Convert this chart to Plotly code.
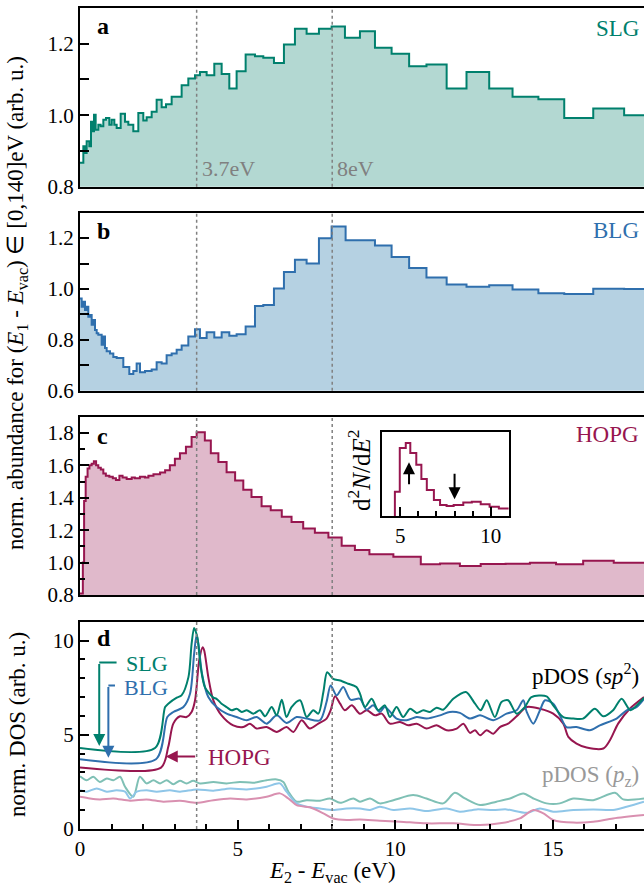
import plotly.graph_objects as go

# ---------------- data ----------------
a_edges = [0, 0.106, 0.159, 0.211, 0.296, 0.349, 0.391, 0.444, 0.497, 0.581, 0.655, 0.74, 0.824, 0.93, 1.004,
           1.089, 1.163, 1.29, 1.427, 1.533, 1.691, 1.85, 2.008, 2.114, 2.273, 2.431, 2.59, 2.727, 2.907, 3.224,
           3.436, 3.647, 3.805, 4.017, 4.26, 4.493, 4.736, 4.968, 5.254, 5.55, 5.814, 6.152, 6.469, 6.818, 7.188,
           7.579, 7.981, 8.404, 8.88, 9.356, 9.884, 10.44, 10.99, 11.63, 12.26, 12.98, 13.72, 14.54, 15.36, 16.28,
           17.26, 18.3]
a_vals = [0.867, 0.913, 0.894, 0.927, 0.913, 0.982, 0.955, 1.001, 0.959, 0.973, 0.969, 0.987, 0.992, 0.973, 0.987,
          0.973, 0.964, 1.004, 0.982, 0.973, 0.955, 1.006, 0.985, 0.994, 1.010, 1.043, 1.022, 1.031, 1.052, 1.084,
          1.103, 1.112, 1.121, 1.112, 1.144, 1.115, 1.075, 1.123, 1.170, 1.165, 1.161, 1.146, 1.198, 1.242, 1.228,
          1.242, 1.248, 1.217, 1.235, 1.189, 1.172, 1.137, 1.142, 1.075, 1.121, 1.075, 1.052, 1.045, 0.992, 1.019,
          1.0]

b_edges = [0, 0.053, 0.106, 0.159, 0.211, 0.264, 0.317, 0.370, 0.423, 0.476, 0.529, 0.581, 0.687, 0.740, 0.793,
           0.846, 0.951, 1.057, 1.163, 1.374, 1.564, 1.691, 1.797, 1.903, 2.061, 2.273, 2.431, 2.590, 2.748, 2.907,
           3.066, 3.224, 3.436, 3.647, 3.805, 4.017, 4.260, 4.493, 4.736, 4.968, 5.254, 5.550, 5.814, 6.152, 6.469,
           6.818, 7.188, 7.579, 7.981, 8.425, 9.356, 9.884, 10.44, 10.99, 11.63, 12.26, 12.98, 13.72, 14.54, 15.36,
           16.28, 17.26, 18.3]
b_vals = [0.963, 0.930, 0.950, 0.917, 0.930, 0.891, 0.898, 0.859, 0.878, 0.839, 0.826, 0.820, 0.781, 0.813, 0.768,
          0.755, 0.746, 0.733, 0.729, 0.693, 0.666, 0.677, 0.707, 0.673, 0.677, 0.683, 0.712, 0.707, 0.739, 0.746,
          0.761, 0.778, 0.813, 0.842, 0.807, 0.830, 0.809, 0.830, 0.816, 0.822, 0.852, 0.933, 0.937, 1.002, 1.067,
          1.115, 1.100, 1.200, 1.246, 1.192, 1.171, 1.126, 1.083, 1.045, 1.018, 1.009, 1.015, 0.998, 0.983, 0.980,
          1.001, 1.0]

c_edges = [0, 0.09, 0.13, 0.18, 0.24, 0.30, 0.37, 0.44, 0.51, 0.58, 0.66, 0.74, 0.82, 0.93, 1.04, 1.14, 1.25, 1.35,
           1.48, 1.64, 1.74, 1.90, 2.06, 2.17, 2.33, 2.54, 2.70, 2.85, 3.01, 3.17, 3.36, 3.54, 3.70, 3.96, 4.15, 4.39,
           4.65, 4.92, 5.18, 5.44, 5.76, 6.05, 6.40, 6.71, 7.08, 7.45, 7.88, 8.30, 8.72, 9.18, 9.94, 10.81, 11.42,
           12.05, 12.71, 13.50, 14.27, 15.10, 15.96, 16.93, 18.3]
c_vals = [0.81, 1.0, 1.38, 1.53, 1.58, 1.60, 1.61, 1.625, 1.60, 1.585, 1.575, 1.55, 1.535, 1.53, 1.52, 1.51, 1.535,
          1.525, 1.515, 1.525, 1.52, 1.53, 1.525, 1.535, 1.545, 1.555, 1.57, 1.60, 1.64, 1.675, 1.715, 1.775, 1.804,
          1.753, 1.675, 1.62, 1.558, 1.507, 1.45, 1.405, 1.348, 1.323, 1.282, 1.251, 1.21, 1.184, 1.155, 1.104,
          1.078, 1.051, 1.036, 0.989, 0.995, 0.979, 0.991, 0.993, 0.999, 0.989, 1.012, 0.999]

inset_edges = [4.71, 4.98, 5.31, 5.56, 5.89, 6.17, 6.47, 6.86, 7.20, 7.56, 7.95, 8.48, 8.95, 9.44, 9.93, 10.44, 10.98]
inset_vals = [0.29, 0.81, 0.87, 0.75, 0.61, 0.44, 0.31, 0.19, 0.13, 0.12, 0.13, 0.16, 0.17, 0.14, 0.11, 0.09]

slg_sp2_x = [0, 2.38, 2.70, 2.80, 3.07, 3.22, 3.44, 3.54, 3.62, 3.72, 3.83, 3.96, 4.23, 4.33, 4.49, 4.65, 4.81, 4.97,
             5.13, 5.29, 5.50, 5.71, 5.87, 6.08, 6.24, 6.40, 6.55, 6.71, 6.98, 7.19, 7.40, 7.56, 7.72, 7.84, 8.03,
             8.25, 8.51, 8.77, 8.88, 9.04, 9.25, 9.46, 9.67, 9.83, 10.04, 10.25, 10.47, 10.68, 10.89, 11.10, 11.31,
             11.52, 11.84, 12.24, 12.53, 12.71, 12.90, 13.16, 13.37, 13.58, 13.85, 14.11, 14.32, 14.80, 15.01, 15.33,
             15.65, 15.96, 16.33, 16.60, 16.91, 17.18, 17.46, 17.71, 17.89]
slg_sp2_y = [4.30, 4.30, 6.47, 6.65, 6.97, 7.09, 8.06, 9.82, 10.67, 10.18, 8.59, 7.53, 6.97, 6.91, 6.65, 6.47, 6.30,
             6.38, 6.21, 6.30, 6.12, 6.30, 5.98, 6.47, 6.03, 6.86, 5.94, 6.47, 6.83, 5.94, 6.30, 6.12, 7.27, 8.32,
             7.97, 7.88, 7.71, 7.53, 7.18, 6.47, 6.91, 6.30, 6.56, 5.94, 6.47, 5.94, 6.38, 6.16, 6.30, 6.21, 6.44,
             6.33, 6.91, 7.27, 6.65, 6.30, 6.83, 5.94, 6.74, 6.83, 6.12, 6.47, 7.00, 7.04, 6.56, 5.94, 5.86, 5.86,
             6.38, 5.98, 6.30, 6.91, 6.30, 6.65, 6.97]

blg_sp2_x = [0, 2.41, 2.77, 2.96, 3.28, 3.49, 3.62, 3.70, 3.77, 3.87, 4.07, 4.33, 4.65, 4.97, 5.29, 5.60, 5.92, 6.24,
             6.55, 6.87, 7.19, 7.61, 7.82, 7.95, 8.14, 8.35, 8.58, 8.88, 9.09, 9.30, 9.51, 9.67, 10.04, 10.36, 10.68,
             10.99, 11.42, 11.73, 12.05, 12.37, 12.69, 13.11, 13.53, 13.85, 14.06, 14.17, 14.38, 14.59, 14.75, 15.01,
             15.22, 15.43, 15.75, 16.17, 16.49, 17.02, 17.34, 17.65, 17.89]
blg_sp2_y = [3.70, 3.70, 5.94, 6.21, 6.47, 7.18, 9.29, 10.32, 9.65, 8.24, 7.00, 6.47, 6.12, 5.94, 5.77, 5.94, 5.59,
             6.03, 5.63, 5.94, 5.86, 5.77, 6.74, 7.62, 7.09, 7.53, 6.86, 6.91, 6.33, 6.56, 6.21, 6.47, 5.86, 5.77,
             5.94, 5.86, 6.03, 6.21, 6.16, 5.86, 6.03, 5.77, 6.12, 6.30, 6.83, 6.21, 5.59, 6.30, 6.83, 6.65, 6.03,
             5.41, 5.41, 5.24, 5.50, 5.86, 6.30, 6.47, 6.91]

hopg_sp2_x = [0, 2.57, 2.80, 2.96, 3.17, 3.38, 3.54, 3.65, 3.78, 3.89, 3.94, 4.07, 4.23, 4.49, 4.86, 5.18, 5.39, 5.60,
              5.92, 6.24, 6.55, 6.77, 7.03, 7.29, 7.56, 7.82, 7.95, 8.09, 8.25, 8.40, 8.62, 8.88, 9.09, 9.36, 9.57,
              9.83, 10.15, 10.41, 10.68, 10.99, 11.31, 11.63, 11.95, 12.16, 12.37, 12.53, 12.69, 12.90, 13.11, 13.32,
              13.58, 13.85, 14.17, 14.59, 15.01, 15.33, 15.49, 15.75, 16.07, 16.60, 16.81, 17.07, 17.44, 17.89]
hopg_sp2_y = [3.26, 3.26, 4.36, 5.59, 5.98, 5.94, 6.21, 6.83, 8.94, 9.65, 9.47, 8.06, 6.83, 6.03, 5.50, 5.41, 5.59,
              5.33, 5.41, 5.15, 5.41, 5.15, 5.77, 5.33, 5.59, 5.86, 6.30, 7.04, 6.65, 6.30, 6.56, 6.12, 6.30, 6.03,
              6.12, 5.59, 5.68, 5.50, 5.59, 5.33, 5.50, 5.24, 5.33, 5.59, 5.10, 5.24, 4.97, 5.24, 5.06, 5.41, 5.59,
              5.98, 6.47, 6.38, 6.12, 5.59, 4.89, 4.53, 4.32, 4.27, 4.71, 5.59, 6.38, 7.00]

slg_pz_x = [0, 0.21, 0.42, 0.63, 0.85, 1.06, 1.27, 1.43, 1.69, 1.90, 2.11, 2.33, 2.54, 2.75, 2.96, 3.17, 3.38, 3.59,
            3.81, 4.23, 4.65, 5.07, 5.50, 5.92, 6.24, 6.45, 6.61, 6.87, 7.19, 7.61, 7.93, 8.25, 8.67, 8.88, 9.20,
            9.51, 9.94, 10.57, 10.99, 11.52, 11.89, 12.21, 12.69, 13.21, 13.64, 14.06, 14.38, 14.80, 15.22, 15.65,
            16.28, 16.97, 17.23, 17.89]
slg_pz_y = [2.80, 2.59, 2.77, 2.50, 2.68, 2.59, 2.77, 2.24, 1.71, 2.77, 2.42, 2.59, 2.42, 2.59, 2.38, 2.56, 2.42,
            2.56, 2.42, 2.50, 2.42, 2.50, 2.45, 2.59, 2.63, 2.50, 1.98, 1.45, 1.53, 1.50, 1.62, 1.39, 1.62, 1.45,
            1.62, 1.36, 1.53, 1.80, 1.62, 1.36, 1.92, 1.62, 1.27, 1.45, 1.62, 1.89, 1.62, 1.36, 1.36, 1.62, 1.53,
            1.92, 1.57, 1.62]

blg_pz_x = [0, 0.21, 0.53, 0.85, 1.16, 1.43, 1.59, 1.80, 2.11, 2.43, 2.85, 3.17, 3.70, 4.23, 4.76, 5.29, 5.92, 6.34,
            6.55, 6.87, 7.19, 7.61, 8.03, 8.46, 8.88, 9.20, 9.51, 9.94, 10.47, 10.99, 11.63, 12.05, 12.58, 13.11,
            13.53, 14.17, 14.59, 15.01, 15.65, 16.28, 16.91, 17.34, 17.89]
blg_pz_y = [2.06, 1.98, 2.15, 1.98, 2.06, 1.98, 1.62, 1.98, 2.06, 1.98, 2.06, 1.98, 2.10, 2.03, 2.15, 2.10, 2.24,
            2.42, 1.98, 1.36, 1.18, 1.09, 1.01, 1.09, 1.09, 1.01, 1.18, 1.01, 1.09, 0.95, 1.09, 0.92, 1.04, 1.01,
            1.04, 0.86, 1.09, 0.92, 1.01, 1.04, 1.01, 1.18, 1.45]

hopg_pz_x = [0, 0.32, 0.63, 1.06, 1.59, 2.11, 2.64, 3.17, 3.70, 4.23, 4.76, 5.29, 5.92, 6.34, 6.61, 6.87, 7.29, 7.72,
             8.03, 8.46, 8.88, 9.51, 10.15, 10.99, 11.84, 12.69, 13.32, 13.95, 14.38, 14.70, 15.01, 15.65, 16.28,
             16.91, 17.89]
hopg_pz_y = [1.71, 1.62, 1.57, 1.62, 1.50, 1.57, 1.45, 1.50, 1.39, 1.53, 1.62, 1.57, 1.71, 1.89, 1.62, 1.27, 1.15,
             0.83, 0.56, 0.48, 0.51, 0.44, 0.39, 0.30, 0.30, 0.21, 0.30, 0.56, 1.01, 0.83, 0.48, 0.34, 0.39, 0.56,
             0.74]

x_range = [0, 17.89]
marker_lines = [3.7, 8.0]

# ---------------- style ----------------
FONT = "Liberation Serif"
TEAL, BLUE, CRIM = "#00806d", "#2f6fad", "#97164f"
TEAL_F, BLUE_F, CRIM_F = "#b3d8d2", "#b5d1e2", "#e0b9cb"
TEAL_L, BLUE_L, CRIM_L = "#7fc0b5", "#8fc6e8", "#d990b0"
GRAY = "#808080"

fig = go.Figure()


def step_trace(edges, vals, color, fill, xa, ya):
    return go.Scatter(x=edges, y=list(vals) + [vals[-1]], mode="lines", line=dict(color=color, width=2, shape="hv"),
                      fill="tozeroy", fillcolor=fill, xaxis=xa, yaxis=ya, showlegend=False, hoverinfo="skip")


fig.add_trace(step_trace(a_edges, a_vals, TEAL, TEAL_F, "x", "y"))
fig.add_trace(step_trace(b_edges, b_vals, BLUE, BLUE_F, "x2", "y2"))
fig.add_trace(step_trace(c_edges, c_vals, CRIM, CRIM_F, "x3", "y3"))

for xs, ys, col in [(slg_pz_x, slg_pz_y, TEAL_L), (blg_pz_x, blg_pz_y, BLUE_L), (hopg_pz_x, hopg_pz_y, CRIM_L),
                    (hopg_sp2_x, hopg_sp2_y, CRIM), (blg_sp2_x, blg_sp2_y, BLUE), (slg_sp2_x, slg_sp2_y, TEAL)]:
    fig.add_trace(go.Scatter(x=xs, y=ys, mode="lines", line=dict(color=col, width=2, shape="spline", smoothing=0.8),
                             xaxis="x4", yaxis="y4", showlegend=False, hoverinfo="skip"))

fig.add_trace(go.Scatter(x=[inset_edges[0]] + inset_edges, y=[0] + inset_vals + [inset_vals[-1]], mode="lines",
                         line=dict(color=CRIM, width=2, shape="hv"), xaxis="x5", yaxis="y5",
                         showlegend=False, hoverinfo="skip"))

# ---------------- layout ----------------
W, H = 644, 886
L, R, T, B = 80, 0, 8, 57
ph = H - T - B


def py(pix):
    return (H - B - pix) / ph


def px(pix):
    return (pix - L) / (W - L - R)


domains = {1: [py(186.7), 1.0], 2: [py(390.7), py(212.7)], 3: [py(595), py(416.7)], 4: [0.0, py(621.7)]}
yranges = {1: [0.8, 1.30], 2: [0.6, 1.30], 3: [0.8, 1.9], 4: [0, 11]}
ydticks = {1: (0.2, 0.1, 9), 2: (0.2, 0.1, 9), 3: (0.2, 0.1, 5), 4: (5, 1, 5)}

tickfont = dict(family=FONT, size=21, color="black")
layout = dict(width=W, height=H, margin=dict(l=L, r=R, t=T, b=B), plot_bgcolor="white", paper_bgcolor="white",
              font=dict(family=FONT, color="black"), showlegend=False)

for i in range(1, 5):
    sx = "" if i == 1 else str(i)
    dt, mdt, mlen = ydticks[i]
    layout["xaxis" + sx] = dict(domain=[0, 1], range=x_range, anchor="y" + sx, showline=True, linecolor="black",
                                linewidth=2, mirror=True, showgrid=False, zeroline=False,
                                ticks="inside" if i == 4 else "", showticklabels=(i == 4),
                                tickfont=tickfont, dtick=5, tick0=0, ticklen=9, tickwidth=1.5, tickcolor="black",
                                minor=dict(dtick=1, ticks="inside" if i == 4 else "", ticklen=5, tickwidth=1.5,
                                           tickcolor="black"))
    layout["yaxis" + sx] = dict(domain=domains[i], range=yranges[i], anchor="x" + sx, showline=True,
                                linecolor="black", linewidth=2, mirror=False, showgrid=False, zeroline=False,
                                ticks="inside", ticklen=9, tickwidth=1.5, tickcolor="black", dtick=dt,
                                tick0=0, tickfont=tickfont, tickformat=".1f" if i < 4 else "d",
                                minor=dict(dtick=mdt, ticks="inside", ticklen=mlen, tickwidth=1.5,
                                           tickcolor="black"))

layout["xaxis5"] = dict(domain=[px(382), px(509)], range=[4, 11], anchor="y5", showline=True, linecolor="black",
                        linewidth=2, mirror=True, showgrid=False, zeroline=False, ticks="inside", tickvals=[5, 10],
                        ticklen=9, tickwidth=1.5, tickcolor="black", tickfont=tickfont,
                        minor=dict(tickvals=[6, 7, 8, 9], ticks="inside", ticklen=5, tickwidth=1.5,
                                   tickcolor="black"))
layout["yaxis5"] = dict(domain=[py(516), py(432)], range=[0, 1], anchor="x5", showline=True, linecolor="black",
                        linewidth=2, mirror=True, showgrid=False, zeroline=False, ticks="", showticklabels=False)

shapes = []
for i in range(1, 5):
    sx = "" if i == 1 else str(i)
    for xv in marker_lines:
        shapes.append(dict(type="line", xref="x" + sx, yref="y" + sx + " domain", x0=xv, x1=xv, y0=0, y1=1,
                           line=dict(color=GRAY, width=1.5, dash="dot"), layer="above"))
shapes.append(dict(type="line", xref="x5", yref="y5 domain", x0=8, x1=8, y0=0, y1=1,
                   line=dict(color=GRAY, width=1.5, dash="dot"), layer="below"))
# elbow connectors of panel d labels
shapes.append(dict(type="line", xref="x4", yref="y4", x0=1.16, x1=0.61, y0=8.83, y1=8.83,
                   line=dict(color=TEAL, width=2)))
shapes.append(dict(type="line", xref="x4", yref="y4", x0=1.11, x1=0.90, y0=7.62, y1=7.62,
                   line=dict(color=BLUE, width=2)))
layout["shapes"] = shapes

ann = []


def txt(text, x, y, size=21, color="black", xanchor="center", yanchor="middle", angle=0, xref="paper",
        yref="paper", xshift=0):
    ann.append(dict(text=text, x=x, y=y, xref=xref, yref=yref, showarrow=False, xanchor=xanchor, yanchor=yanchor,
                    textangle=angle, xshift=xshift, font=dict(family=FONT, size=size, color=color)))


txt("norm. abundance for (<i>E</i><sub>1</sub> - <i>E</i><sub>vac</sub>) \u2208 [0,140]eV (arb. u.)",
    px(17), py(303), size=23, angle=-90)
txt("norm. DOS (arb. u.)", px(17), py(725), size=23, angle=-90)
txt("<i>E</i><sub>2</sub> - <i>E</i><sub>vac</sub> (eV)", px(332), py(872), size=23)

for lab, ypix in [("a", 26), ("b", 231), ("c", 436), ("d", 638)]:
    txt("<b>%s</b>" % lab, px(95), py(ypix), size=24, xanchor="left")

txt("SLG", px(641), py(28), size=23, color=TEAL, xanchor="right")
txt("BLG", px(641), py(231), size=23, color=BLUE, xanchor="right")
txt("HOPG", px(641), py(434), size=23, color=CRIM, xanchor="right")

txt("3.7eV", 3.7, 0.85, size=22, color=GRAY, xanchor="left", xref="x", yref="y", xshift=3)
txt("8eV", 8.0, 0.85, size=22, color=GRAY, xanchor="left", xref="x", yref="y", xshift=3)

txt("d<sup>2</sup><i>N</i>/d<i>E</i><sup>2</sup>", px(359), py(471), size=25, angle=-90)

txt("SLG", px(124), py(663), size=22, color=TEAL, xanchor="left")
txt("BLG", px(122), py(687), size=22, color=BLUE, xanchor="left")
txt("HOPG", px(206), py(757), size=23, color=CRIM, xanchor="left")
txt("pDOS (<i>sp</i><sup>2</sup>)", px(641), py(674), size=23, xanchor="right")
txt("pDOS (<i>p</i><sub>z</sub>)", px(641), py(776), size=23, color="#999999", xanchor="right")


def arrow(x, y, ax, ay, color, xa, ya, width=2):
    ann.append(dict(x=x, y=y, ax=ax, ay=ay, xref=xa, yref=ya, axref=xa, ayref=ya, showarrow=True, text="",
                    arrowhead=2, arrowsize=1.2, arrowwidth=width, arrowcolor=color))


arrow(0.61, 4.40, 0.61, 8.83, TEAL, "x4", "y4")
arrow(0.90, 3.78, 0.90, 7.62, BLUE, "x4", "y4")
arrow(2.72, 3.85, 3.70, 3.85, CRIM, "x4", "y4")
arrow(5.49, 0.64, 5.49, 0.36, "black", "x5", "y5")
arrow(8.0, 0.20, 8.0, 0.52, "black", "x5", "y5")

layout["annotations"] = ann
fig.update_layout(**layout)
fig.write_html("out.html", config={"displayModeBar": False},
               post_script="document.documentElement.style.margin='0';document.body.style.margin='0';"
                           "document.body.style.overflow='hidden';")
